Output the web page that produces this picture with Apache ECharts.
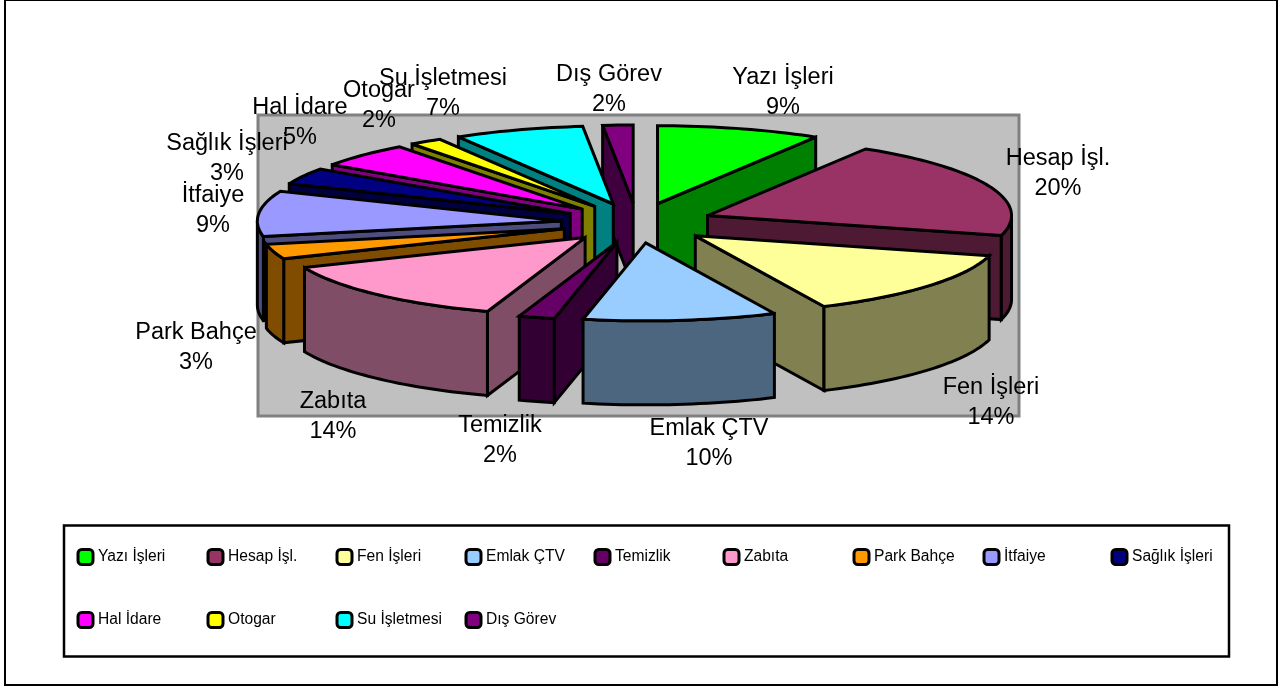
<!DOCTYPE html>
<html>
<head>
<meta charset="utf-8">
<style>html,body{margin:0;padding:0;background:#fff}#c{width:1280px;height:687px}</style>
<script src="https://cdn.jsdelivr.net/npm/echarts@6/dist/echarts.min.js"></script>
</head>
<body>
<div id="c"></div>
<script>
// Data
const categories = ['Yazı İşleri','Hesap İşl.','Fen İşleri','Emlak ÇTV','Temizlik','Zabıta','Park Bahçe','İtfaiye','Sağlık İşleri','Hal İdare','Otogar','Su İşletmesi','Dış Görev'];
const values = [8.7, 20.4, 13.9, 10.25, 1.9, 13.5, 3.1, 9.4, 3.4, 5.1, 1.75, 6.9, 1.6];
const topColors = ['#00ff00','#993366','#ffff99','#99ccff','#660066','#ff99cc','#ff9900','#9999ff','#000080','#ff00ff','#ffff00','#00ffff','#800080'];
const wallColors = ['#008000','#4d1933','#808050','#4d6680','#330033','#804d66','#804d00','#4d4d80','#000040','#800080','#808000','#008080','#400040'];

// Layout
const paintOrder = [12,11,10,9,8,7,6,5,0,1,2,4,3];
const labelCentres = [[783,77.5],[1058,158.5],[991,387.5],[709,428.5],[500,425.5],[333,401.5],[196,332.5],[213,195.5],[227,143.5],[300,107.5],[379,90.5],[443,78.5],[609,74.5]];
const legendCols = [77,207,336,465,594,723,853,983,1111];
const legendRows = [548,611];
const CX = 637, CY = 223, RX = 304, RY = 78, DEPTH = 84, EX = 76, EY = 20;

const total = values.reduce((a,b)=>a+b,0);
const rad = d => d*Math.PI/180;
let acc = 0;
const spans = values.map(v => { const s = acc; acc += v/total*360; return [s, acc]; });

function ptOn(c, deg, dy) {
  return [c[0] + RX*Math.sin(rad(deg)), c[1] - RY*Math.cos(rad(deg)) + (dy||0)];
}
function arc(c, a, b, dy) {
  const pts = [], n = Math.max(2, Math.ceil(Math.abs(b-a)/1.5));
  for (let i=0;i<=n;i++) pts.push(ptOn(c, a+(b-a)*i/n, dy));
  return pts;
}
const stroke = {stroke:'#000', lineWidth:3, lineJoin:'miter', miterLimit:3};
function poly(points, fill) {
  return {type:'polygon', shape:{points}, style:Object.assign({fill}, stroke)};
}
function sliceRender(i) {
  return function () {
    const [a,b] = spans[i], mid = (a+b)/2;
    const c = [CX + EX*Math.sin(rad(mid)), CY - EY*Math.cos(rad(mid))];
    const down = p => [p[0], p[1]+DEPTH];
    const kids = [];
    const sinA = Math.sin(rad(a)), sinB = Math.sin(rad(b));
    if (sinB > 0.001) { const o = ptOn(c,b); kids.push(poly([c,o,down(o),down(c)], wallColors[i])); }
    if (sinA < -0.001) { const o = ptOn(c,a); kids.push(poly([c,o,down(o),down(c)], wallColors[i])); }
    const lo = Math.max(a,90), hi = Math.min(b,270);
    if (hi > lo) {
      const top = arc(c,lo,hi), bot = arc(c,hi,lo,DEPTH);
      kids.push(poly(top.concat(bot), wallColors[i]));
    }
    kids.push(poly([c].concat(arc(c,a,b)), topColors[i]));
    return {type:'group', children:kids};
  };
}
const font = '"Liberation Sans", Arial, sans-serif';
const series = paintOrder.map((i,k) => ({
  type:'custom', name:categories[i], coordinateSystem:'none', silent:true,
  z:10+k, data:[[values[i]]], itemStyle:{color:topColors[i]},
  renderItem:sliceRender(i)
}));
series.push({
  type:'custom', name:'labels', coordinateSystem:'none', silent:true, z:50,
  data:categories.map((n,i)=>[i]),
  renderItem:function(p){
    const i = p.dataIndex, pos = labelCentres[i];
    const common = {fill:'#000', font:'23.5px '+font, textAlign:'center', textVerticalAlign:'middle'};
    return {type:'group', children:[
      {type:'text', style:Object.assign({text:categories[i], x:pos[0], y:pos[1]}, common)},
      {type:'text', style:Object.assign({text:Math.round(values[i]/total*100)+'%', x:pos[0], y:pos[1]+30}, common)}
    ]};
  }
});
const legends = categories.map((n,i) => ({
  left: legendCols[i<9?i:i-9] - 0.5,
  top: legendRows[i<9?0:1],
  padding:0, itemGap:4, itemWidth:15, itemHeight:15, icon:'roundRect',
  data:[n], selectedMode:false, orient:'horizontal', z:40,
  itemStyle:{borderColor:'#000', borderWidth:3},
  textStyle:{color:'#000', fontFamily:font, fontSize:15.6, padding:[6,0,0,0]}
}));
const chart = echarts.init(document.getElementById('c'), null, {renderer:'canvas'});
chart.setOption({
  animation:false, backgroundColor:'#fff',
  graphic:[
    {type:'rect', z:0, shape:{x:5,y:0,width:1272,height:685}, style:{fill:'#fff',stroke:'#000',lineWidth:2}},
    {type:'rect', z:1, shape:{x:258,y:115,width:761,height:301}, style:{fill:'#c0c0c0',stroke:'#808080',lineWidth:3}},
    {type:'rect', z:1, shape:{x:64,y:525.5,width:1165,height:131}, style:{fill:'#fff',stroke:'#000',lineWidth:2.5}}
  ],
  legend:legends,
  series:series
});
</script>
</body>
</html>
